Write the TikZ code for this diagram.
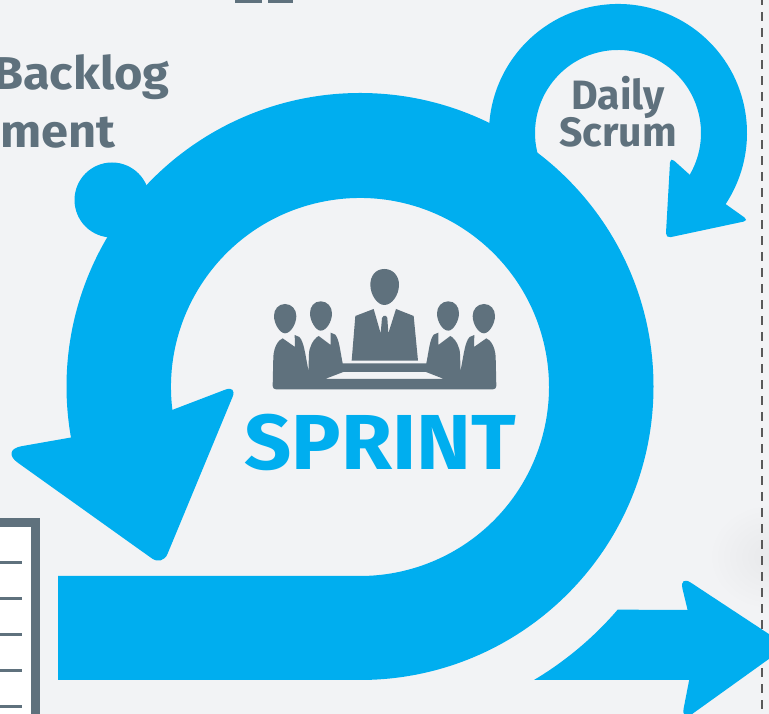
\documentclass[tikz,border=0pt]{standalone}
\usepackage{fontspec}
\usetikzlibrary{calc}
\setmainfont{Fira Sans}
\newfontface\widebold{Fira Sans Bold}[FakeStretch=1.06]
\newfontface\plainbold{Fira Sans Bold}
\definecolor{bgc}{HTML}{F2F3F5}
\definecolor{cy}{HTML}{00AEEF}
\definecolor{slate}{HTML}{5F717D}
\tikzset{
  cyanshape/.style={fill=cy,draw=none},
  iconshape/.style={fill=slate,draw=none},
  headtext/.style={text=slate,font=\widebold\fontsize{46}{46}\selectfont,inner sep=0pt,anchor=base east},
  dailytext/.style={text=slate,font=\plainbold\fontsize{41}{41}\selectfont,inner sep=0pt,anchor=base},
  rowline/.style={fill=slate,draw=none},
}
\begin{document}
\begin{tikzpicture}[x=1pt,y=1pt]
\useasboundingbox (0,0) rectangle (769,714);
\clip (0,0) rectangle (769,714);
\fill[bgc] (0,0) rectangle (769,714);
% soft shadow
\foreach \rr in {6,12,...,60} \fill[black,opacity=0.004] (772,157) ellipse ({\rr} and {\rr*0.85});
% dashed rule
\draw[line width=2pt,color=black!65,dash pattern=on 9pt off 7pt] (761.7,-11) -- (761.7,714);
% clipped letters at top
\fill[slate] (235,711) rectangle (262,714);
\fill[slate] (268,711) rectangle (293,714);
% table at left
\fill[slate] (0,196) rectangle (40,0);
\fill[white] (0,187) rectangle (31,0);
\foreach \yy in {151,115,79,43,7} \fill[rowline] (0,\yy-1.5) rectangle (22,\yy+1.5);
% daily scrum loop
\fill[cyanshape] (618,581) ++(190:129) arc[start angle=190,end angle=-38,radius=129]
  -- ($(618,581)+(-35:83)$) arc[start angle=-35,end angle=200,radius=83] -- cycle;
\fill[cyanshape,rounded corners=5pt] (710,521) -- (748.7,493.5) -- (665.7,475.8) -- (670.3,556.7) -- cycle;
% main loop
\fill[cyanshape] (58,34) -- (360,34) arc[start angle=-90,end angle=195,radius=293.5]
  -- ($(360,327)+(192:189)$) arc[start angle=192,end angle=-90,radius=189] -- (58,138) -- cycle;
\fill[cyanshape] (112,514) circle (37.5);
\fill[cyanshape,rounded corners=10pt] (125,286) [rounded corners=22pt] -- (0,264) [rounded corners=13pt] -- (162.5,148) -- (237.5,329) -- cycle;
% outgoing arrow
\fill[cyanshape] (534,34) arc[start angle=-59.2,end angle=-40.7,radius=340] -- (695,104) -- (695,34) -- cycle;
\fill[cyanshape,rounded corners=14pt] (696,69) -- (679.2,139) -- (787,68) -- (681,-8) -- cycle;
% people icon
\begin{scope}[shift={(230,464)},xscale=1/3,yscale=-1/3]
\fill[iconshape] (463,57) .. controls (435,57) and (421,80) .. (421,104)
  .. controls (421,135) and (442,165) .. (463,165)
  .. controls (486,165) and (507,135) .. (507,104)
  .. controls (507,80) and (491,57) .. (463,57) -- cycle;
\fill[iconshape] (365,332) -- (376,198) -- (431,177) -- (452,250) -- (456,204) -- (461,198) -- (468,198) -- (472,204) -- (475,250) -- (498,177) -- (551,198) -- (564,332) -- cycle;
\foreach \mx/\sx in {0/1,927/-1}{
 \begin{scope}[xshift=\mx,xscale=\sx]
  \fill[iconshape] (165,162) .. controls (145,162) and (132,178) .. (132,198)
   .. controls (132,222) and (150,250) .. (165,250)
   .. controls (182,250) and (199,222) .. (199,198)
   .. controls (199,178) and (185,162) .. (165,162) -- cycle;
  \fill[iconshape] (272,154) .. controls (252,154) and (240,170) .. (240,190)
   .. controls (240,214) and (258,242) .. (272,242)
   .. controls (290,242) and (306,214) .. (306,190)
   .. controls (306,170) and (292,154) .. (272,154) -- cycle;
 \end{scope}
}
\fill[iconshape,even odd rule] (130,320) .. controls (132,290) and (145,270) .. (158,265)
  -- (195,291) -- (194,255) -- (208,261) .. controls (222,275) and (225,310) .. (236,365)
  .. controls (236,340) and (236,300) .. (240,295) .. controls (245,275) and (258,262) .. (266,258)
  -- (302,285) -- (302,248) -- (316,254) .. controls (328,270) and (330,300) .. (338,340)
  -- (589,340) .. controls (597,300) and (599,270) .. (611,254) -- (625,248) -- (625,285)
  -- (661,258) .. controls (669,262) and (682,275) .. (687,295) .. controls (691,300) and (691,340) .. (691,365)
  .. controls (702,310) and (705,275) .. (719,261) -- (733,255) -- (732,291) -- (769,265)
  .. controls (782,270) and (795,290) .. (797,320)
  -- (799,408) .. controls (799,414) and (795,418) .. (789,418)
  -- (138,418) .. controls (132,418) and (128,414) .. (128,408) -- cycle
  (285,387) -- (340,366) -- (588,366) -- (642,387) -- cycle;
\end{scope}
% text
\node[headtext] (backlog) at (170,624) {Backlog};
\node[headtext] (ment) at (116,566) {ment};
\node[dailytext] (daily) at (618,604) {Daily};
\node[dailytext] (scrum) at (618,567) {Scrum};
\node[text=cy,font=\widebold\fontsize{78}{78}\selectfont,inner sep=0pt,anchor=base] (sprint) at (380.5,244) {SPRINT};
\end{tikzpicture}
\end{document}
